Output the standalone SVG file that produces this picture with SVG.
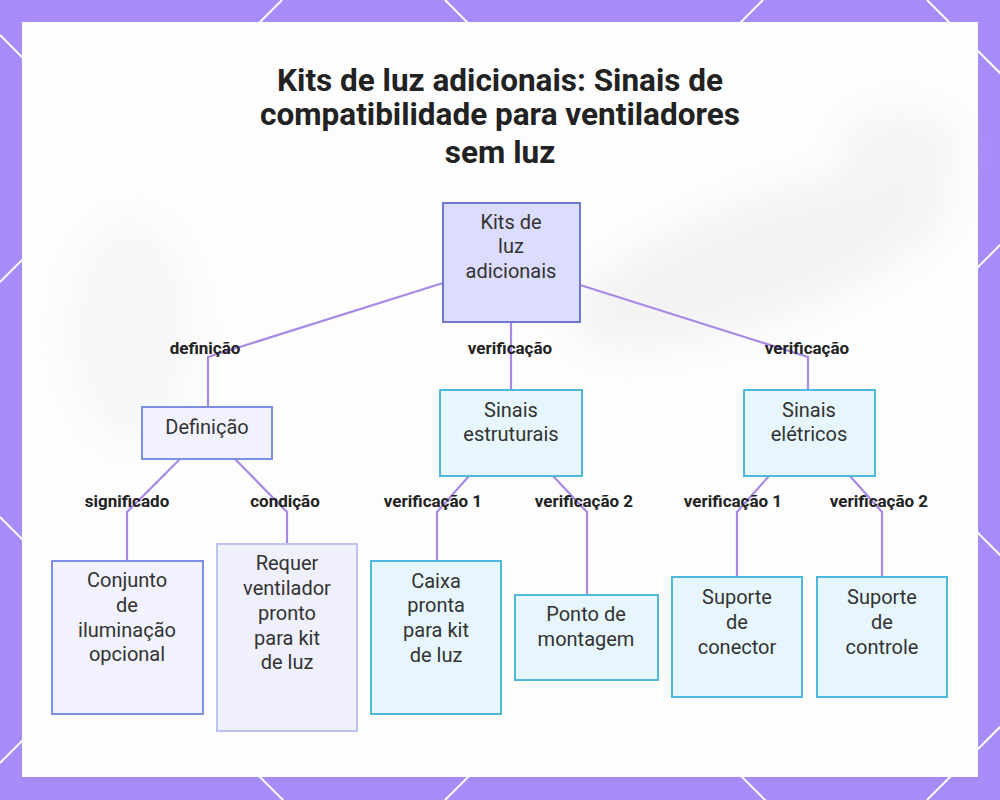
<svg xmlns="http://www.w3.org/2000/svg" width="1000" height="800" viewBox="0 0 1000 800">
<defs>
<style>
.lat{stroke:#ffffff;stroke-width:2;fill:none}
.title{font-family:Roboto,"Liberation Sans",sans-serif;font-weight:700;font-size:31.5px;fill:#222222;text-anchor:middle}
.t{font-family:Roboto,"Liberation Sans",sans-serif;font-size:20px;fill:#333333;text-anchor:middle}
.lbl{font-family:Roboto,"Liberation Sans",sans-serif;font-weight:700;font-size:17px;fill:#222222;text-anchor:middle}
.root{fill:#dcdcfc;stroke:#6f78d2;stroke-width:2}
.def{fill:#f1f2fd;stroke:#7d8fe0;stroke-width:2}
.def2{fill:#eff0fb;stroke:#bcc3f0;stroke-width:2}
.sig{fill:#e6f6fc;stroke:#4db9dd;stroke-width:2}
.edge{stroke:#a88ae6;stroke-width:2.2;fill:none}
</style>
<filter id="blur" x="-50%" y="-50%" width="200%" height="200%"><feGaussianBlur stdDeviation="18"/></filter>
</defs>
<rect width="1000" height="800" fill="#a78bf8"/>
<g id="lattice">
<line class="lat" x1="0" y1="35" x2="800" y2="835"/>
<line class="lat" x1="0" y1="517" x2="300" y2="817"/>
<line class="lat" x1="445" y1="0" x2="1245" y2="800"/>
<line class="lat" x1="927" y1="0" x2="1727" y2="800"/>
<line class="lat" x1="282" y1="0" x2="0" y2="282"/>
<line class="lat" x1="763" y1="0" x2="0" y2="763"/>
<line class="lat" x1="1245" y1="0" x2="445" y2="800"/>
<line class="lat" x1="1727" y1="0" x2="927" y2="800"/>
</g>
<rect x="22" y="22" width="956" height="755" fill="#fdfdfd"/>
<g id="background" filter="url(#blur)" opacity="0.4">
<ellipse cx="760" cy="260" rx="200" ry="60" fill="#e4e4e4" transform="rotate(-20 760 260)"/>
<ellipse cx="130" cy="330" rx="60" ry="110" fill="#ececec"/>
<ellipse cx="900" cy="150" rx="60" ry="40" fill="#e8e8e8"/>
</g>
<circle cx="925" cy="725" r="43" fill="none" stroke="#ffffff" stroke-width="1.2" stroke-dasharray="2 1"/>
<g id="title">
<text class="title" x="500" y="91">Kits de luz adicionais: Sinais de</text>
<text class="title" x="500" y="125">compatibilidade para ventiladores</text>
<text class="title" x="500" y="163">sem luz</text>
</g>
<g id="connectors">
<polyline class="edge" points="443,283 208,357 208,407"/>
<polyline class="edge" points="511,322 511,390"/>
<polyline class="edge" points="580,285 808,357 808,390"/>
<polyline class="edge" points="180,459 127,512 127,561"/>
<polyline class="edge" points="235,459 287,512 287,544"/>
<polyline class="edge" points="469,476 437,512 437,561"/>
<polyline class="edge" points="553,476 587,512 587,595"/>
<polyline class="edge" points="769,476 737,512 737,577"/>
<polyline class="edge" points="850,476 882,512 882,577"/>
<text class="lbl" x="205" y="354">definição</text>
<text class="lbl" x="510" y="354">verificação</text>
<text class="lbl" x="807" y="354">verificação</text>
<text class="lbl" x="127" y="507">significado</text>
<text class="lbl" x="285" y="507">condição</text>
<text class="lbl" x="433" y="507">verificação 1</text>
<text class="lbl" x="584" y="507">verificação 2</text>
<text class="lbl" x="733" y="507">verificação 1</text>
<text class="lbl" x="879" y="507">verificação 2</text>
</g>
<g id="root">
<rect class="root" x="443" y="203" width="137" height="119"/>
<text class="t" x="511" y="229">Kits de</text>
<text class="t" x="511" y="253">luz</text>
<text class="t" x="511" y="278">adicionais</text>
</g>
<g id="definicao">
<rect class="def" x="142" y="407" width="130" height="52"/>
<text class="t" x="207" y="434">Definição</text>
</g>
<g id="conjunto">
<rect class="def" x="52" y="561" width="151" height="153"/>
<text class="t" x="127" y="587">Conjunto</text>
<text class="t" x="127" y="612">de</text>
<text class="t" x="127" y="637">iluminação</text>
<text class="t" x="127" y="661">opcional</text>
</g>
<g id="requer">
<rect class="def2" x="217" y="544" width="140" height="187"/>
<text class="t" x="287" y="570">Requer</text>
<text class="t" x="287" y="595">ventilador</text>
<text class="t" x="287" y="620">pronto</text>
<text class="t" x="287" y="645">para kit</text>
<text class="t" x="287" y="669">de luz</text>
</g>
<g id="estruturais">
<rect class="sig" x="440" y="390" width="142" height="86"/>
<text class="t" x="511" y="417">Sinais</text>
<text class="t" x="511" y="441">estruturais</text>
</g>
<g id="caixa">
<rect class="sig" x="371" y="561" width="130" height="153"/>
<text class="t" x="436" y="588">Caixa</text>
<text class="t" x="436" y="612">pronta</text>
<text class="t" x="436" y="637">para kit</text>
<text class="t" x="436" y="662">de luz</text>
</g>
<g id="ponto">
<rect class="sig" x="515" y="595" width="143" height="85"/>
<text class="t" x="586" y="621">Ponto de</text>
<text class="t" x="586" y="646">montagem</text>
</g>
<g id="eletricos">
<rect class="sig" x="744" y="390" width="131" height="86"/>
<text class="t" x="809" y="417">Sinais</text>
<text class="t" x="809" y="441">elétricos</text>
</g>
<g id="conector">
<rect class="sig" x="672" y="577" width="130" height="120"/>
<text class="t" x="737" y="604">Suporte</text>
<text class="t" x="737" y="629">de</text>
<text class="t" x="737" y="654">conector</text>
</g>
<g id="controle">
<rect class="sig" x="817" y="577" width="130" height="120"/>
<text class="t" x="882" y="604">Suporte</text>
<text class="t" x="882" y="629">de</text>
<text class="t" x="882" y="654">controle</text>
</g>
</svg>
